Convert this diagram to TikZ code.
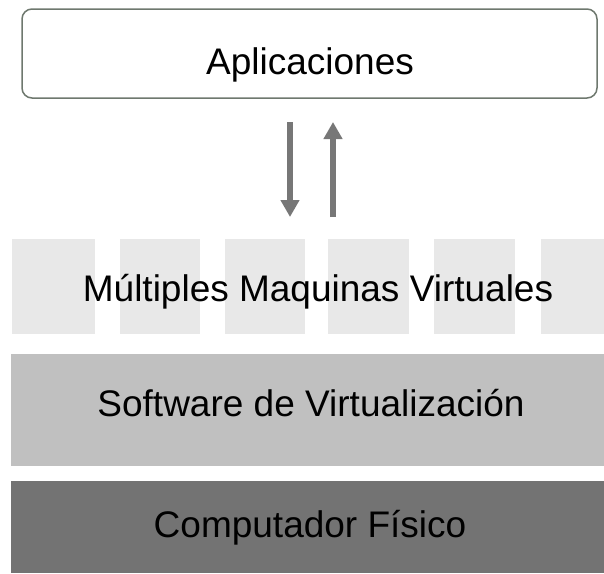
\documentclass[tikz,border=0pt]{standalone}
\usepackage{fontspec}
\setmainfont{Liberation Sans}
\usetikzlibrary{arrows.meta}
\definecolor{vmgray}{HTML}{E8E8E8}
\definecolor{swgray}{HTML}{C0C0C0}
\definecolor{hwgray}{HTML}{737373}
\definecolor{appborder}{HTML}{6E786E}
\definecolor{arrowgray}{HTML}{777777}
\begin{document}
\begin{tikzpicture}[x=1pt,y=-1pt,
  label/.style={font=\fontsize{37}{44}\selectfont, text=black, anchor=base, inner sep=0pt},
  vmcol/.style={fill=vmgray, draw=none},
  flow/.style={draw=arrowgray, line width=6pt, -{Triangle[width=18pt,length=17pt]}}]
  \useasboundingbox (0,0) rectangle (604,573);

  % top layer: applications
  \draw[appborder, line width=1.5pt, rounded corners=10pt] (22,9) rectangle (597,98);
  \node[label] (apps) at (310,74) {Aplicaciones};

  % data flow between applications and the virtual machines
  \coordinate (downA) at (290,122);
  \coordinate (downB) at (290,217);
  \coordinate (upA) at (333,217);
  \coordinate (upB) at (333,122);
  \draw[flow] (downA) -- (downB);
  \draw[flow] (upA) -- (upB);

  % virtual machine columns
  \foreach \l/\r in {12/95, 120/200, 225/305, 328/409, 434/515, 541/604}
    \fill[vmgray] (\l,239) rectangle (\r,334);
  \node[label] (vms) at (318,301) {Múltiples Maquinas Virtuales};

  % virtualization software layer
  \fill[swgray] (11,354) rectangle (604,466);
  \node[label] (sw) at (311,416) {Software de Virtualización};

  % physical hardware layer
  \fill[hwgray] (11,481) rectangle (604,573);
  \node[label] (hw) at (310,537) {Computador Físico};
\end{tikzpicture}
\end{document}
